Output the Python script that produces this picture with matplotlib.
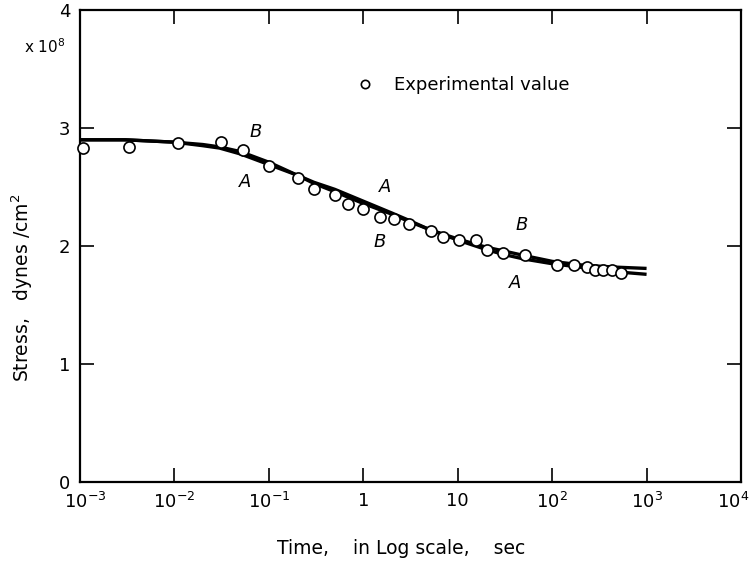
import numpy as np
import matplotlib
matplotlib.use("Agg")
import matplotlib.pyplot as plt
import matplotlib.transforms as mtransforms
from matplotlib.ticker import FixedLocator, NullLocator

plt.rcParams['font.family'] = ['DejaVu Sans']
plt.rcParams['mathtext.default'] = 'regular'

# experimental stress relaxation points (time in sec, stress in 1e8 dynes/cm2)
t_exp = [1.07e-3, 3.3e-3, 0.011, 0.031, 0.053, 0.10, 0.204, 0.30, 0.50, 0.69,
         1.0, 1.5, 2.1, 3.05, 5.2, 7.0, 10.3, 15.6, 20.4, 30.2, 51.6,
         112, 170, 234, 284, 346, 430, 536]
s_exp = [2.83, 2.84, 2.87, 2.88, 2.81, 2.68, 2.58, 2.48, 2.43, 2.36,
         2.31, 2.25, 2.23, 2.19, 2.13, 2.08, 2.05, 2.05, 1.97, 1.94, 1.92,
         1.84, 1.84, 1.82, 1.80, 1.80, 1.80, 1.77]

# calculated curves A and B
t_curve = [1e-3, 3e-3, 1e-2, 2e-2, 3e-2, 5e-2, 0.1, 0.2, 0.3, 0.5, 1, 2, 3, 5,
           10, 20, 30, 50, 100, 200, 300, 500, 1000]
s_curve_a = [2.90, 2.90, 2.88, 2.85, 2.83, 2.78, 2.69, 2.60, 2.54, 2.48, 2.38,
             2.28, 2.22, 2.14, 2.05, 1.97, 1.93, 1.89, 1.85, 1.82, 1.80, 1.78, 1.76]
s_curve_b = [2.90, 2.90, 2.88, 2.86, 2.84, 2.80, 2.71, 2.60, 2.53, 2.46, 2.36,
             2.27, 2.21, 2.14, 2.06, 1.99, 1.96, 1.92, 1.87, 1.84, 1.83, 1.82, 1.81]

x_ticks = [1e-3, 1e-2, 1e-1, 1, 10, 1e2, 1e3, 1e4]
x_ticklabels = ['$10^{-3}$', '$10^{-2}$', '$10^{-1}$', '1', '10',
                '$10^{2}$', '$10^{3}$', '$10^{4}$']
y_ticks = [0, 1, 2, 3, 4]

fig = plt.figure(figsize=(7.54, 5.65), dpi=100)
ax = fig.add_axes([80/754, 83/565, 661/754, 472/565])

ax.plot(t_curve, s_curve_a, color='black', lw=2.4, solid_capstyle='butt', zorder=2)
ax.plot(t_curve, s_curve_b, color='black', lw=2.4, solid_capstyle='butt', zorder=2)
ax.plot(t_exp, s_exp, 'o', ms=8, mfc='white', mec='black', mew=1.2,
        clip_on=False, zorder=3, label='Experimental value')

ax.set_xscale('log')
ax.set_xlim(1e-3, 1e4)
ax.set_ylim(0, 4)
ax.xaxis.set_major_locator(FixedLocator(x_ticks))
ax.xaxis.set_minor_locator(NullLocator())
ax.set_xticklabels(x_ticklabels)
ax.set_yticks(y_ticks)

for sp in ax.spines.values():
    sp.set_linewidth(1.6)
ax.tick_params(direction='in', length=10, width=1.2, top=True, right=True,
               labelsize=13, pad=7)

# nudge the end labels so they stay inside the figure
xlabels = ax.get_xticklabels()
xlabels[0].set_transform(xlabels[0].get_transform() +
                         mtransforms.ScaledTranslation(5/100, 0, fig.dpi_scale_trans))
xlabels[-1].set_transform(xlabels[-1].get_transform() +
                          mtransforms.ScaledTranslation(-8/100, 0, fig.dpi_scale_trans))

# curve labels
kw = dict(fontsize=13, style='italic', ha='center', va='center')
ax.text(0.073, 2.97, 'B', **kw)
ax.text(0.056, 2.54, 'A', **kw)
ax.text(1.7, 2.50, 'A', **kw)
ax.text(1.5, 2.03, 'B', **kw)
ax.text(48, 2.18, 'B', **kw)
ax.text(41, 1.69, 'A', **kw)

ax.legend(loc='center left', bbox_to_anchor=(0.417, 0.841), frameon=False,
          handlelength=1.0, handletextpad=1.1, borderpad=0, borderaxespad=0,
          markerscale=0.75, numpoints=1, fontsize=13)

fig.text(45/754, 1 - 47/565, 'x 10$^8$', fontsize=11, ha='center', va='center')
fig.text(22/754, 1 - 288/565, 'Stress,   dynes /cm$^2$', fontsize=13.5,
         rotation=90, ha='center', va='center')
fig.text(401/754, 1 - 548/565, 'Time,    in Log scale,    sec', fontsize=13.5,
         ha='center', va='center')

fig.savefig('out.png', dpi=100)
